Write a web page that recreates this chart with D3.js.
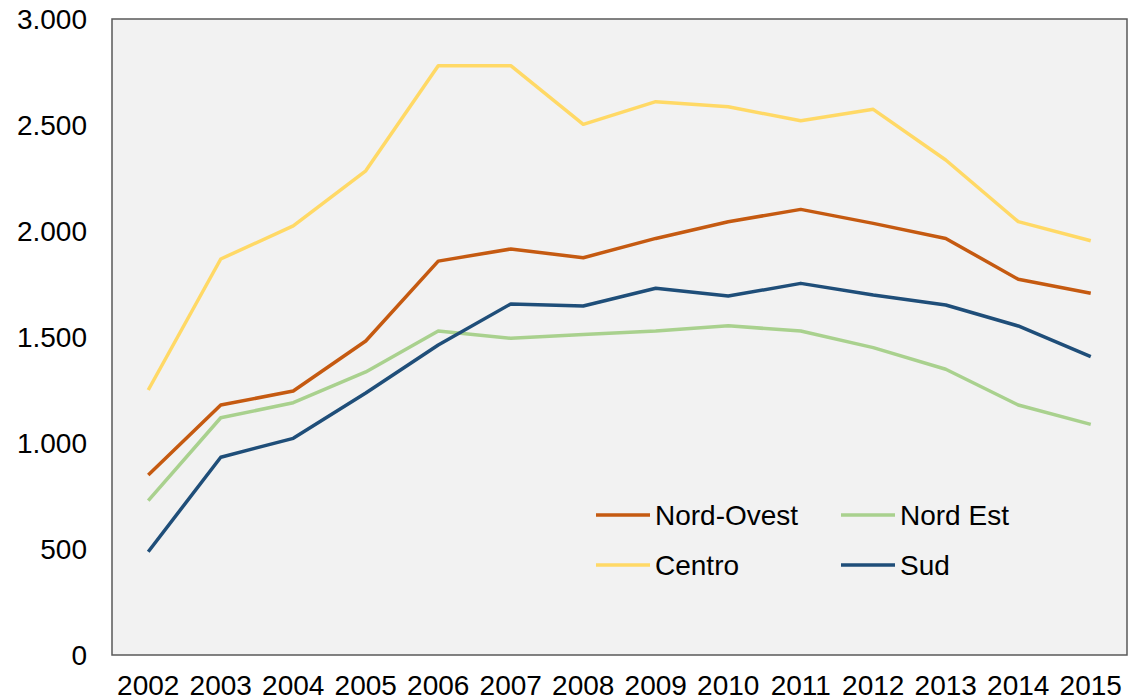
<!DOCTYPE html>
<html>
<head>
<meta charset="utf-8">
<script src="https://cdn.jsdelivr.net/npm/d3@7"></script>
<style>
  body { margin: 0; background: #fff; }
  svg text { font-family: "Liberation Sans", Arial, sans-serif; fill: #000; }
</style>
</head>
<body>
<svg id="chart" width="1131" height="700"></svg>
<script>
// Data
const years = ["2002","2003","2004","2005","2006","2007","2008","2009","2010","2011","2012","2013","2014","2015"];
const seriesNames = ["Nord-Ovest", "Nord Est", "Centro", "Sud"];
const nordOvest = [849, 1179, 1245, 1481, 1858, 1915, 1874, 1965, 2044, 2102, 2036, 1965, 1772, 1706];
const nordEst   = [728, 1119, 1190, 1335, 1528, 1494, 1512, 1528, 1553, 1528, 1450, 1348, 1179, 1088];
const centro    = [1250, 1868, 2024, 2284, 2780, 2780, 2503, 2610, 2586, 2520, 2574, 2335, 2044, 1954];
const sud       = [487, 933, 1022, 1236, 1462, 1656, 1646, 1730, 1693, 1753, 1698, 1651, 1552, 1407];
const yTicks = [0, 500, 1000, 1500, 2000, 2500, 3000];

const colors = {
  "Nord-Ovest": "#C55A11",
  "Nord Est": "#A9D18E",
  "Centro": "#FFD966",
  "Sud": "#1F4E79"
};
const valuesByName = {
  "Nord-Ovest": nordOvest,
  "Nord Est": nordEst,
  "Centro": centro,
  "Sud": sud
};

const svg = d3.select("#chart");
const margin = { left: 112, top: 19, right: 4, bottom: 45 };
const width = 1131 - margin.left - margin.right,
      height = 700 - margin.top - margin.bottom;

const g = svg.append("g").attr("transform", "translate(" + margin.left + "," + margin.top + ")");

const x = d3.scaleBand().domain(years).range([0, width]);
const y = d3.scaleLinear().domain([0, 3000]).range([height, 0]);

// plot area
g.append("rect")
  .attr("width", width)
  .attr("height", height)
  .attr("fill", "#F2F2F2")
  .attr("stroke", "#595959")
  .attr("stroke-width", 1.5);

const fmt = (v) => d3.format(",")(v).replace(/,/g, ".");

// y axis labels
const yAxis = g.append("g")
  .call(d3.axisLeft(y).tickValues(yTicks).tickFormat(fmt).tickSize(0).tickPadding(25));
yAxis.select(".domain").remove();
yAxis.selectAll("text").style("font-size", "28px").attr("dy", "0.35em");

// x axis labels
const xAxis = g.append("g")
  .attr("transform", "translate(0," + height + ")")
  .call(d3.axisBottom(x).tickSize(0).tickPadding(20));
xAxis.select(".domain").remove();
xAxis.selectAll("text").style("font-size", "28px");

const line = d3.line()
  .x((d, i) => x(years[i]) + x.bandwidth() / 2)
  .y((d) => y(d));

// draw order so Centro / Nord-Ovest sit on top as in reference
["Nord Est", "Sud", "Nord-Ovest", "Centro"].forEach((name) => {
  g.append("path")
    .datum(valuesByName[name])
    .attr("fill", "none")
    .attr("stroke", colors[name])
    .attr("stroke-width", 3.5)
    .attr("stroke-linejoin", "round")
    .attr("d", line);
});

// legend
const legend = svg.append("g").attr("transform", "translate(596,515)");
const item = legend.selectAll("g")
  .data(seriesNames)
  .enter().append("g")
  .attr("transform", (d, i) => "translate(" + (i % 2) * 245 + "," + Math.floor(i / 2) * 50 + ")");
item.append("line")
  .attr("x1", 0).attr("x2", 54)
  .attr("stroke", (d) => colors[d])
  .attr("stroke-width", 3.5);
item.append("text")
  .attr("x", 59)
  .attr("dy", "0.35em")
  .style("font-size", "28px")
  .text((d) => d);
</script>
</body>
</html>
